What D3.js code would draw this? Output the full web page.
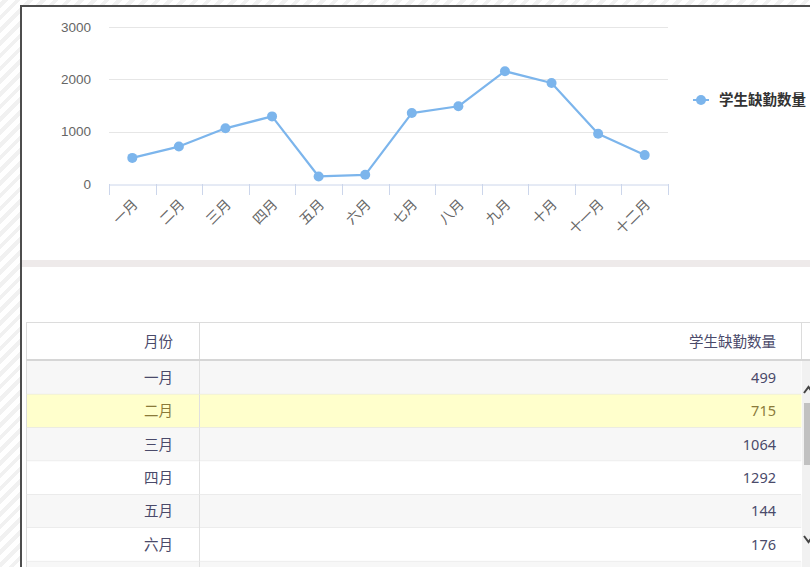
<!DOCTYPE html>
<html>
<head>
<meta charset="utf-8">
<script src="https://cdn.jsdelivr.net/npm/d3@7"></script>
<style>
  html, body { margin: 0; padding: 0; }
  body {
    width: 810px; height: 567px; overflow: hidden;
    background: repeating-linear-gradient(-45deg, #ffffff 0 5px, #f1f1f1 5px 9px);
  }
  svg { position: absolute; left: 0; top: 0; }
</style>
</head>
<body>
<svg id="svg"></svg>
<script>
// 数据
const months = ['一月', '二月', '三月', '四月', '五月', '六月', '七月', '八月', '九月', '十月', '十一月', '十二月']
const absences = [499, 715, 1064, 1292, 144, 176, 1355, 1485, 2155, 1930, 960, 552]
const yTicks = [0, 1000, 2000, 3000]
const seriesName = '学生缺勤数量'
const tableHeads = ['月份', '学生缺勤数量']
const highlightRow = 1

const [width, height] = [810, 567]
const color = '#7cb5ec'
const cjk = '"Liberation Sans", "Noto Sans CJK SC", sans-serif'
const tableFont = '"Noto Sans", "Noto Sans CJK SC", sans-serif'

let svg = d3.select('#svg')
  .attr('width', width)
  .attr('height', height)

// 面板
svg.append('rect')
  .attr('x', 21).attr('y', 6)
  .attr('width', 800).attr('height', 600)
  .attr('fill', '#fff')
  .attr('stroke', '#4d4d4d')
  .attr('stroke-width', 2)

// 比例尺
let x = d3.scaleBand()
  .domain(months)
  .range([109, 668])

let y = d3.scaleLinear()
  .domain([0, 3000])
  .range([184, 27])

// 网格线
svg.append('g')
  .selectAll('line')
  .data(yTicks.filter(d => d > 0))
  .enter()
  .append('line')
  .attr('x1', 109).attr('x2', 668)
  .attr('y1', d => Math.round(y(d)) + 0.5)
  .attr('y2', d => Math.round(y(d)) + 0.5)
  .attr('stroke', '#e6e6e6')

// y轴文字
let yAxis = svg.append('g')
  .attr('transform', 'translate(98, 0)')
  .call(d3.axisLeft(y).tickValues(yTicks).tickFormat(d3.format('d')).tickSize(0).tickPadding(7))
yAxis.select('.domain').remove()
yAxis.selectAll('text')
  .attr('fill', '#666')
  .style('font-size', '13.5px')
  .style('font-family', cjk)

// x轴
let xAxis = svg.append('g')
  .attr('transform', 'translate(0, 184.5)')
  .call(d3.axisBottom(x).tickSize(0).tickFormat(''))
xAxis.select('.domain').attr('stroke', '#ccd6eb')
xAxis.selectAll('.tick').remove()

// 刻度线在分类边界
let bounds = months.map(m => x(m)).concat([x.range()[1]])
svg.append('g')
  .selectAll('line')
  .data(bounds)
  .enter()
  .append('line')
  .attr('x1', d => Math.round(d) + 0.5)
  .attr('x2', d => Math.round(d) + 0.5)
  .attr('y1', 184).attr('y2', 195)
  .attr('stroke', '#ccd6eb')

// x轴文字
svg.append('g')
  .selectAll('text')
  .data(months)
  .enter()
  .append('text')
  .text(d => d)
  .attr('transform', d => 'translate(' + (x(d) + x.bandwidth() / 2 - 1) + ', 198) rotate(-45)')
  .attr('text-anchor', 'end')
  .attr('dy', '0.75em')
  .attr('fill', '#666')
  .style('font-size', '14px')
  .style('font-family', cjk)

// 折线
let line = d3.line()
  .x((d, i) => x(months[i]) + x.bandwidth() / 2)
  .y(d => y(d))

svg.append('path')
  .attr('d', line(absences))
  .attr('fill', 'none')
  .attr('stroke', color)
  .attr('stroke-width', 2.2)
  .attr('stroke-linejoin', 'round')

svg.append('g')
  .selectAll('circle')
  .data(absences)
  .enter()
  .append('circle')
  .attr('cx', (d, i) => x(months[i]) + x.bandwidth() / 2)
  .attr('cy', d => y(d))
  .attr('r', 5)
  .attr('fill', color)

// 图例
let legend = svg.append('g').attr('transform', 'translate(693, 100)')
legend.append('line')
  .attr('x1', 0).attr('x2', 16)
  .attr('stroke', color).attr('stroke-width', 2)
legend.append('circle').attr('cx', 8).attr('r', 5).attr('fill', color)
legend.append('text')
  .text(seriesName)
  .attr('x', 26)
  .attr('dy', '0.35em')
  .attr('fill', '#333')
  .style('font-weight', 'bold')
  .style('font-size', '14.5px')
  .style('font-family', cjk)

// 分隔条
svg.append('rect')
  .attr('x', 22).attr('y', 260)
  .attr('width', 790).attr('height', 7)
  .attr('fill', '#eeeaea')

// 表格
const [tLeft, tSplit, tRight, tEnd] = [26, 199, 801, 812]
const headTop = 322, headH = 37, rowTop = 361, rowH = 33.4
const cellText = ['#4a4a6a', '#8a7a3a']
const cellSize = '14.5px'

let head = svg.append('g')
head.append('rect')
  .attr('x', tLeft + 0.5).attr('y', headTop + 0.5)
  .attr('width', tEnd - tLeft).attr('height', headH)
  .attr('fill', '#fff').attr('stroke', '#dcdcdc')
head.selectAll('line')
  .data([tSplit, tRight])
  .enter()
  .append('line')
  .attr('x1', d => d + 0.5).attr('x2', d => d + 0.5)
  .attr('y1', headTop).attr('y2', headTop + headH)
  .attr('stroke', '#dcdcdc')
head.selectAll('text')
  .data(tableHeads)
  .enter()
  .append('text')
  .text(d => d)
  .attr('x', (d, i) => i === 0 ? 173 : 776)
  .attr('y', headTop + headH / 2 + 1)
  .attr('dy', '0.35em')
  .attr('text-anchor', 'end')
  .attr('fill', cellText[0])
  .style('font-size', cellSize)
  .style('font-family', tableFont)
head.append('line')
  .attr('x1', tLeft).attr('x2', tEnd)
  .attr('y1', headTop + headH + 1).attr('y2', headTop + headH + 1)
  .attr('stroke', '#d6d6d6').attr('stroke-width', 2)

// 可见的行（第7行只露出边线）
let rows = svg.append('g')
  .selectAll('g')
  .data(months.slice(0, 7))
  .enter()
  .append('g')
  .attr('transform', (d, i) => 'translate(0,' + (rowTop + i * rowH) + ')')

rows.append('rect')
  .attr('x', tLeft + 0.5).attr('width', tRight - tLeft)
  .attr('height', rowH)
  .attr('fill', (d, i) => i === highlightRow ? '#ffffcc' : (i % 2 === 0 ? '#f7f7f7' : '#fff'))
rows.append('line')
  .attr('x1', tLeft).attr('x2', tRight)
  .attr('y1', rowH).attr('y2', rowH)
  .attr('stroke', '#e0e0e0')
rows.append('line')
  .attr('x1', tSplit + 0.5).attr('x2', tSplit + 0.5)
  .attr('y1', 0).attr('y2', rowH)
  .attr('stroke', '#e0e0e0')
rows.append('line')
  .attr('x1', tLeft + 0.5).attr('x2', tLeft + 0.5)
  .attr('y1', 0).attr('y2', rowH)
  .attr('stroke', '#dcdcdc')

let shown = rows.filter((d, i) => i < 6)
shown.append('text')
  .text(d => d)
  .attr('x', 173)
  .attr('y', rowH / 2)
  .attr('dy', '0.35em')
  .attr('text-anchor', 'end')
  .attr('fill', (d, i) => i === highlightRow ? cellText[1] : cellText[0])
  .style('font-size', cellSize)
  .style('font-family', tableFont)
shown.append('text')
  .text((d, i) => absences[i])
  .attr('x', 776)
  .attr('y', rowH / 2)
  .attr('dy', '0.35em')
  .attr('text-anchor', 'end')
  .attr('fill', (d, i) => i === highlightRow ? cellText[1] : cellText[0])
  .style('font-size', cellSize)
  .style('font-family', tableFont)

// 滚动条
let sb = svg.append('g')
sb.append('rect')
  .attr('x', 802).attr('y', rowTop)
  .attr('width', 10).attr('height', height - rowTop)
  .attr('fill', '#f1f1f1')
sb.append('rect')
  .attr('x', 804).attr('y', 403)
  .attr('width', 8).attr('height', 62)
  .attr('fill', '#c1c1c1')
sb.append('path')
  .attr('d', 'M804,393 L808.5,387 L813,393')
  .attr('fill', 'none').attr('stroke', '#444').attr('stroke-width', 2)
sb.append('path')
  .attr('d', 'M804,536 L808.5,542 L813,536')
  .attr('fill', 'none').attr('stroke', '#444').attr('stroke-width', 2)
</script>
</body>
</html>
